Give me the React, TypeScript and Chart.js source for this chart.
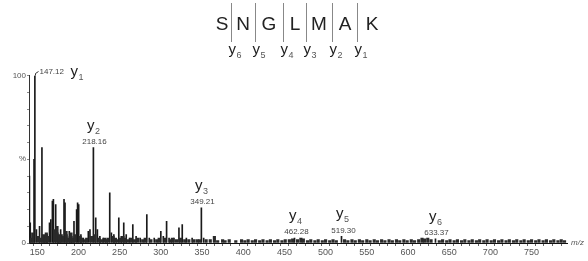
import React, { useEffect, useRef } from "react";
import { Chart, registerables } from "chart.js";

Chart.register(...registerables);

// Major fragment peaks (m/z, relative intensity %)
const majorMz = [
  140.5, 141.5, 146.1, 147.12, 149, 152.8, 155.7, 158, 162, 164.9,
  166.5, 168.4, 169.6, 172.4, 175, 178.4, 180, 182.5, 183.7, 186,
  188.9, 192, 194.6, 197.8, 199, 200.3, 203, 206, 212, 214,
  218.16, 221, 223, 226, 230, 238, 240, 243, 249, 252,
  255, 258, 262, 266, 270, 275, 283, 286, 292, 300,
  303, 307, 310, 316, 322, 326, 331, 338, 349.21, 352,
  462.28, 519.3, 633.37,
];
const majorInt = [
  40, 12, 50, 100, 8, 10, 57, 4, 5, 12,
  14, 25, 26, 23, 6, 8, 5, 26, 24, 5,
  7, 4, 13, 20, 24, 23, 5, 3, 7, 8,
  57, 15, 8, 4, 3, 30, 6, 5, 15, 4,
  12, 5, 3, 11, 4, 3, 17, 3, 3, 7,
  4, 13, 3, 3, 9, 11, 3, 3, 21, 3,
  3, 4, 2.5,
];

// Low-level baseline peaks
const noiseMz = [
  143, 144.5, 151, 154, 157.5, 160, 161, 163, 171, 174,
  176.5, 177, 181, 185, 187, 190, 191, 193, 196, 202,
  204, 208, 210, 216, 220, 225, 228, 232, 234, 236,
  242, 245, 247, 251, 254, 257, 260, 264, 268, 272,
  278, 281, 288, 295, 298, 305, 312, 314, 319, 324,
  329, 334, 340, 344, 347, 355, 360, 365, 369, 375,
  378, 383, 391, 398, 402, 406, 411, 415, 420, 424,
  429, 433, 438, 442, 447, 451, 456, 460, 466, 470,
  473, 478, 482, 487, 491, 496, 500, 505, 509, 513,
  523, 527, 532, 536, 541, 545, 550, 554, 559, 563,
  568, 572, 577, 581, 586, 590, 595, 599, 604, 608,
  613, 617, 620, 624, 628, 638, 642, 647, 651, 656,
  660, 665, 669, 674, 678, 683, 687, 692, 696, 701,
  705, 710, 714, 719, 723, 728, 732, 737, 741, 746,
  750, 755, 759, 764, 768, 773, 777, 782, 786, 790,
];
const noiseInt = [
  3, 6, 4, 3, 5, 3, 6, 4, 8, 10,
  4, 5, 4, 7, 3, 4, 6, 3, 5, 4,
  3, 2, 3, 4, 5, 3, 2, 3, 2, 3,
  4, 3, 2, 3, 4, 3, 2, 3, 2, 3,
  2, 3, 2, 2, 3, 3, 2, 3, 2, 3,
  2, 2, 2, 2, 2, 2, 2, 4, 1.5, 2,
  1.5, 2, 1.5, 2, 1.5, 2, 1.5, 2, 1.5, 2,
  1.5, 2, 1.5, 2, 1.5, 2, 2, 2.5, 2, 3,
  2.5, 1.5, 2, 1.5, 2, 1.5, 2, 1.5, 2, 1.5,
  2, 1.5, 2, 1.5, 2, 1.5, 2, 1.5, 2, 1.5,
  2, 1.5, 2, 1.5, 2, 1.5, 2, 1.5, 2, 1.5,
  2, 3, 2.5, 3, 2, 1.5, 2, 1.5, 2, 1.5,
  2, 1.5, 2, 1.5, 2, 1.5, 2, 1.5, 2, 1.5,
  2, 1.5, 2, 1.5, 2, 1.5, 2, 1.5, 2, 1.5,
  2, 1.5, 2, 1.5, 2, 1.5, 2, 1.5, 2, 1.5,
];

// Annotated y-ions
const ionMz = [147.12, 218.16, 349.21, 462.28, 519.3, 633.37];
const ionLabels = ["147.12", "218.16", "349.21", "462.28", "519.30", "633.37"];
const ionIndex = ["1", "2", "3", "4", "5", "6"];

// Peptide sequence header
const sequence = ["S", "N", "G", "L", "M", "A", "K"];
const seqIons = ["6", "5", "4", "3", "2", "1"];

const xTickLabels = [150, 200, 250, 300, 350, 400, 450, 500, 550, 600, 650, 700, 750];

const FONT = 'Arial, "Liberation Sans", sans-serif';

function intensityAt(mz: number): number {
  const i = majorMz.indexOf(mz);
  return i >= 0 ? majorInt[i] : 0;
}

function drawIon(ctx: CanvasRenderingContext2D, sub: string, x: number, cy: number, align: "left" | "center") {
  ctx.font = `15px ${FONT}`;
  const wy = ctx.measureText("y").width;
  ctx.font = `9px ${FONT}`;
  const ws = ctx.measureText(sub).width;
  const total = wy + ws + 0.5;
  const left = align === "center" ? x - total / 2 : x;
  ctx.textAlign = "left";
  ctx.textBaseline = "alphabetic";
  ctx.fillStyle = "#222";
  ctx.font = `15px ${FONT}`;
  ctx.fillText("y", left, cy + 4);
  ctx.fillStyle = "#555";
  ctx.font = `9px ${FONT}`;
  ctx.fillText(sub, left + wy + 0.5, cy + 8);
}

const annotationPlugin = {
  id: "msAnnotations",
  afterDraw(chart: any) {
    const { ctx, scales } = chart;
    const xs = scales.x;
    const ys = scales.y;
    ctx.save();
    ionMz.forEach((mz, i) => {
      const px = Math.round(xs.getPixelForValue(mz)) + 0.5;
      const py = ys.getPixelForValue(intensityAt(mz));
      if (i === 0) {
        ctx.strokeStyle = "#333";
        ctx.lineWidth = 1;
        ctx.beginPath();
        ctx.moveTo(px, py);
        ctx.lineTo(px, py - 2);
        ctx.lineTo(px + 3, py - 4);
        ctx.stroke();
        ctx.fillStyle = "#444";
        ctx.font = `8px ${FONT}`;
        ctx.textAlign = "left";
        ctx.textBaseline = "middle";
        ctx.fillText(ionLabels[i], px + 4, py - 4);
        drawIon(ctx, ionIndex[i], px + 35, py - 4, "left");
      } else {
        ctx.fillStyle = "#444";
        ctx.font = `8px ${FONT}`;
        ctx.textAlign = "center";
        ctx.textBaseline = "middle";
        ctx.fillText(ionLabels[i], px + 1, py - 6);
        drawIon(ctx, ionIndex[i], px, py - 22, "center");
      }
    });
    ctx.fillStyle = "#555";
    ctx.font = `italic 8px ${FONT}`;
    ctx.textAlign = "left";
    ctx.textBaseline = "middle";
    ctx.fillText("m/z", xs.right + 4, xs.top);

    const letterX = [222, 243, 269, 295, 319, 345, 372];
    const sepX = [231.5, 255.5, 283.5, 306.5, 332.5, 357.5];
    ctx.strokeStyle = "#888";
    ctx.lineWidth = 1;
    sepX.forEach((sx) => {
      ctx.beginPath();
      ctx.moveTo(sx, 3);
      ctx.lineTo(sx, 42);
      ctx.stroke();
    });
    ctx.fillStyle = "#222";
    ctx.font = `19px ${FONT}`;
    ctx.textAlign = "center";
    ctx.textBaseline = "middle";
    sequence.forEach((s, i) => ctx.fillText(s, letterX[i], 25));
    seqIons.forEach((s, i) => drawIon(ctx, s, sepX[i] - 3, 50, "left"));
    ctx.restore();
  },
};

export default function App() {
  const ref = useRef<HTMLCanvasElement>(null);
  useEffect(() => {
    document.body.style.margin = "0";
    const major = majorMz.map((m, i) => ({ x: m, y: majorInt[i] }));
    const noise = noiseMz.map((m, i) => ({ x: m, y: noiseInt[i] }));
    const chart = new Chart(ref.current!, {
      type: "bar",
      data: {
        datasets: [
          {
            data: noise as any,
            backgroundColor: "#2a2a2a",
            borderWidth: 0,
            barThickness: 2.5,
            grouped: false,
          } as any,
          {
            data: major as any,
            backgroundColor: "#1a1a1a",
            borderWidth: 0,
            barThickness: 1,
            grouped: false,
          } as any,
        ],
      },
      options: {
        animation: false,
        responsive: false,
        devicePixelRatio: 1,
        layout: { padding: { left: 2, right: 21, top: 75.5, bottom: 0 } },
        plugins: { legend: { display: false }, tooltip: { enabled: false } },
        scales: {
          x: {
            type: "linear",
            min: 140,
            max: 793,
            offset: false,
            afterFit: (s: any) => {
              s.height = 18;
            },
            border: { color: "#111", width: 1 },
            grid: { display: true, drawOnChartArea: false, drawTicks: true, tickLength: 3, color: "#666" },
            ticks: {
              stepSize: 10,
              autoSkip: false,
              maxRotation: 0,
              padding: 1,
              color: "#555",
              font: { family: FONT, size: 9 },
              callback: (v: any) => (xTickLabels.includes(Number(v)) ? String(v) : ""),
            },
          },
          y: {
            min: 0,
            max: 100,
            afterFit: (s: any) => {
              s.width = 27;
            },
            border: { color: "#333", width: 1 },
            grid: { display: true, drawOnChartArea: false, drawTicks: true, tickLength: 2, color: "#888" },
            ticks: {
              stepSize: 10,
              autoSkip: false,
              padding: 1,
              color: "#555",
              font: { family: FONT, size: 8 },
              callback: (v: any) => (v === 100 ? "100" : v === 50 ? "%" : v === 0 ? "0" : ""),
            },
          },
        },
      },
      plugins: [annotationPlugin],
    });
    return () => chart.destroy();
  }, []);
  return <canvas ref={ref} width={588} height={261} style={{ display: "block" }} />;
}
